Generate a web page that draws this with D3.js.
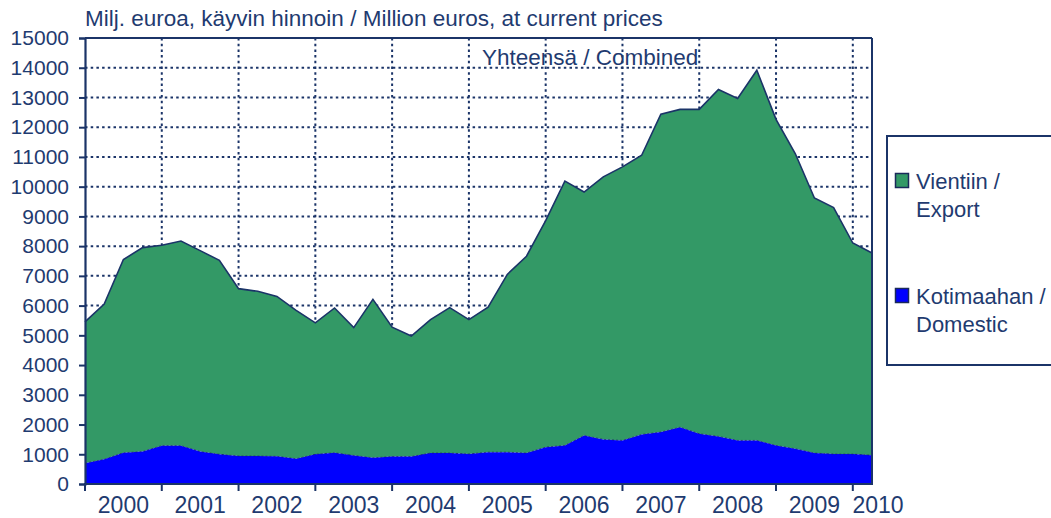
<!DOCTYPE html>
<html>
<head>
<meta charset="utf-8">
<script src="https://cdn.jsdelivr.net/npm/d3@7"></script>
<style>
  html, body { margin: 0; padding: 0; background: #ffffff; }
  svg { display: block; font-family: "Liberation Sans", Arial, sans-serif; }
</style>
</head>
<body>
<svg id="chart" width="1051" height="518"></svg>
<script>
// ---- data (quarterly, 2000Q1 .. 2010Q2), million euros ----
const years = [2000, 2001, 2002, 2003, 2004, 2005, 2006, 2007, 2008, 2009, 2010];
const quarters = [];
years.forEach(y => { for (let q = 1; q <= 4; q++) quarters.push(y + "Q" + q); });
const categories = quarters.slice(0, 42);

const domestic = [700, 830, 1050, 1090, 1290, 1290, 1090, 1000,
                  940, 940, 930, 850, 1000, 1050, 960, 880,
                  925, 925, 1040, 1040, 1010, 1070, 1070, 1040,
                  1240, 1295, 1630, 1500, 1465, 1665, 1745, 1910,
                  1690, 1600, 1465, 1465, 1295, 1185, 1040, 1005,
                  1005, 970];
const exportVals = [4750, 5220, 6500, 6860, 6740, 6880, 6760, 6520,
                    5630, 5540, 5380, 4990, 4420, 4870, 4300, 5330,
                    4350, 4050, 4490, 4890, 4520, 4880, 5980, 6620,
                    7620, 8890, 8190, 8830, 9200, 9390, 10690, 10690,
                    10910, 11670, 11500, 12450, 10970, 9930, 8580, 8290,
                    7100, 6800];
const yTicks = [0,1000,2000,3000,4000,5000,6000,7000,8000,9000,10000,11000,12000,13000,14000,15000];
const yearLabels = ["2000","2001","2002","2003","2004","2005","2006","2007","2008","2009","2010"];
const seriesNames = ["Kotimaahan / Domestic", "Vientiin / Export"];
const titleText = "Milj. euroa, käyvin hinnoin / Million euros, at current prices";
const subTitle = "Yhteensä / Combined";

// ---- layout ----
const navy = "#1b3468";
const textCol = "#1f3b70";
const green = "#339966";
const blue = "#0000ff";
const L = 85, R = 872, T = 38, B = 484;

const svg = d3.select("#chart");

const x = d3.scalePoint().domain(categories).range([L, R]);
const y = d3.scaleLinear().domain([0, 15000]).range([B, T]);

const table = categories.map((c, i) => ({ cat: c, domestic: domestic[i], export: exportVals[i] }));
const stack = d3.stack().keys(["domestic", "export"]);
const layers = stack(table);

// gridlines
const grid = svg.append("g");
grid.selectAll("line.h").data(yTicks.filter(v => v > 0)).join("line")
  .attr("x1", L).attr("x2", R)
  .attr("y1", d => y(d)).attr("y2", d => y(d))
  .attr("stroke", navy).attr("stroke-width", 2).attr("stroke-dasharray", "2.5,3.2");
const yearIdx = years.map((yr, k) => k * 4);
grid.selectAll("line.v").data(yearIdx.filter(i => i > 0)).join("line")
  .attr("x1", d => x(categories[d])).attr("x2", d => x(categories[d]))
  .attr("y1", T).attr("y2", B)
  .attr("stroke", navy).attr("stroke-width", 2).attr("stroke-dasharray", "2.5,3.2");

// areas
const area = d3.area()
  .x((d, i) => x(categories[i]))
  .y0(d => y(d[0])).y1(d => y(d[1]));
const topLine = d3.line().x((d, i) => x(categories[i])).y(d => y(d[1]));

svg.append("path").datum(layers[1]).attr("d", area).attr("fill", green);
svg.append("path").datum(layers[1]).attr("d", topLine).attr("fill", "none")
  .attr("stroke", navy).attr("stroke-width", 1.6);
svg.append("path").datum(layers[0]).attr("d", area).attr("fill", blue);
svg.append("path").datum(layers[0]).attr("d", topLine).attr("fill", "none")
  .attr("stroke", "#1a1f6e").attr("stroke-width", 1).attr("stroke-dasharray", "2,2").attr("opacity", 0.7);

// frame
svg.append("line").attr("x1", L).attr("x2", R).attr("y1", T).attr("y2", T).attr("stroke", navy).attr("stroke-width", 2);
svg.append("line").attr("x1", R).attr("x2", R).attr("y1", T).attr("y2", B).attr("stroke", navy).attr("stroke-width", 2);

// y axis
const yAxis = d3.axisLeft(y).tickValues(yTicks).tickSize(6).tickPadding(10).tickFormat(d3.format("d"));
const gy = svg.append("g").attr("transform", `translate(${L},0)`).call(yAxis);
gy.select(".domain").attr("stroke", navy).attr("stroke-width", 2.2);
gy.selectAll(".tick line").attr("stroke", navy).attr("stroke-width", 2);
gy.selectAll(".tick text").attr("fill", textCol).attr("font-size", 21)
  .attr("font-family", "'Liberation Sans', Arial, sans-serif");

// x axis
svg.append("line").attr("x1", L - 1).attr("x2", R + 1).attr("y1", B).attr("y2", B).attr("stroke", navy).attr("stroke-width", 2.2);
svg.selectAll("line.xt").data(yearIdx).join("line")
  .attr("x1", d => x(categories[d])).attr("x2", d => x(categories[d]))
  .attr("y1", B).attr("y2", B + 7).attr("stroke", navy).attr("stroke-width", 2);
svg.selectAll("text.xl").data(yearLabels).join("text")
  .attr("x", (d, k) => {
    const i = k * 4;
    const mid = i + 2 < categories.length ? x(categories[i + 2]) : R + 6;
    return Math.min(mid, R + 6);
  })
  .attr("y", B + 29)
  .attr("text-anchor", "middle").attr("font-size", 23).attr("fill", textCol)
  .text(d => d);

// titles
svg.append("text").attr("x", L).attr("y", 26).attr("font-size", 22.5).attr("fill", textCol).text(titleText);
svg.append("text").attr("x", 482).attr("y", 65).attr("font-size", 22.5).attr("fill", textCol).text(subTitle);

// legend
const lg = svg.append("g");
lg.append("rect").attr("x", 887).attr("y", 136).attr("width", 180).attr("height", 229)
  .attr("fill", "#ffffff").attr("stroke", navy).attr("stroke-width", 2);
const legendItems = [
  { name: seriesNames[1], color: green, y: 173 },
  { name: seriesNames[0], color: blue, y: 288 }
];
legendItems.forEach(it => {
  lg.append("rect").attr("x", 895.5).attr("y", it.y + 0.5).attr("width", 13).attr("height", 14)
    .attr("fill", it.color).attr("stroke", "#1a2a5a").attr("stroke-width", 1.5);
  const parts = it.name.split(" / ");
  const t = lg.append("text").attr("font-size", 22).attr("fill", textCol);
  t.append("tspan").attr("x", 916).attr("y", it.y + 16).text(parts[0] + " /");
  t.append("tspan").attr("x", 916).attr("y", it.y + 44).text(parts[1]);
});
</script>
</body>
</html>
